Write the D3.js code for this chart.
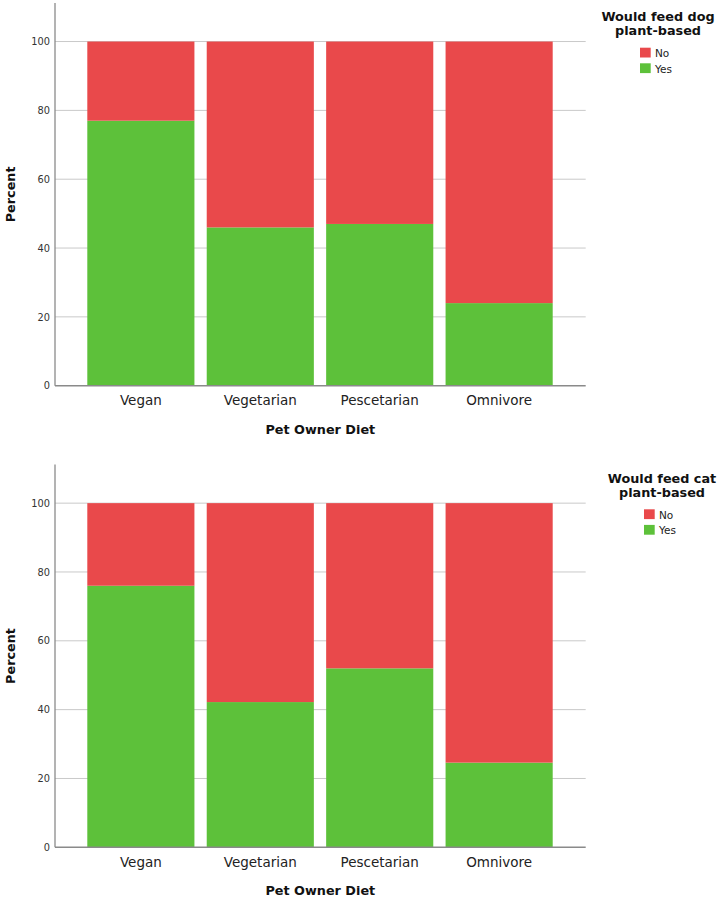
<!DOCTYPE html>
<html>
<head>
<meta charset="utf-8">
<script src="https://cdn.jsdelivr.net/npm/d3@7"></script>
<style>
  html, body { margin: 0; padding: 0; background: #fff; }
  svg text { font-family: "DejaVu Sans", sans-serif; }
</style>
</head>
<body>
<svg id="chart" width="720" height="900"></svg>
<script>
const categories = ["Vegan", "Vegetarian", "Pescetarian", "Omnivore"];
const seriesKeys = ["Yes", "No"];
const dogYes = [77, 46, 47, 24];
const dogNo = [23, 54, 53, 76];
const catYes = [76, 42.2, 52, 24.6];
const catNo = [24, 57.8, 48, 75.4];
const yTicks = [0, 20, 40, 60, 80, 100];
const dogLegendTitle = ["Would feed dog", "plant-based"];
const catLegendTitle = ["Would feed cat", "plant-based"];
const legendItems = ["No", "Yes"];
const xTitle = "Pet Owner Diet";
const yTitle = "Percent";

const colors = { Yes: "#5DC13A", No: "#E9494B" };
const svg = d3.select("#chart");

function drawChart(yesVals, noVals, legendLines, offY, legendCx) {
  const g = svg.append("g").attr("transform", `translate(0,${offY})`);
  const left = 55, right = 585.7, top = 3, bottom = 385.7;
  const y = d3.scaleLinear().domain([0, 111.2]).range([bottom, top]);
  const x = d3.scaleBand().domain(categories)
    .range([81.15, 558.85]).paddingInner(0.103).paddingOuter(0.0515);

  // gridlines
  g.append("g").selectAll("line").data(yTicks.filter(d => d > 0)).join("line")
    .attr("x1", left).attr("x2", right)
    .attr("y1", d => y(d)).attr("y2", d => y(d))
    .attr("stroke", "#c9c9c9").attr("stroke-width", 1);

  const rows = categories.map((c, i) => ({ cat: c, Yes: yesVals[i], No: noVals[i] }));
  const stacked = d3.stack().keys(seriesKeys)(rows);
  g.append("g").selectAll("g").data(stacked).join("g")
    .attr("fill", d => colors[d.key])
    .selectAll("rect").data(d => d).join("rect")
    .attr("x", d => x(d.data.cat))
    .attr("width", x.bandwidth())
    .attr("y", d => y(d[1]))
    .attr("height", d => y(d[0]) - y(d[1]));

  // y axis
  const yAxis = d3.axisLeft(y).tickValues(yTicks).tickSize(0).tickPadding(5);
  const ya = g.append("g").attr("transform", `translate(${left},0)`).call(yAxis);
  ya.select(".domain").remove();
  ya.selectAll("text").attr("font-size", 9.8).attr("fill", "#333")
    .style("font-family", "'DejaVu Sans', sans-serif");
  g.append("line").attr("x1", left).attr("x2", left).attr("y1", top).attr("y2", bottom)
    .attr("stroke", "#8a8a8a").attr("stroke-width", 1.3);

  // x axis
  const xAxis = d3.axisBottom(x).tickSize(0).tickPadding(10);
  const xa = g.append("g").attr("transform", `translate(0,${bottom})`).call(xAxis);
  xa.select(".domain").remove();
  xa.selectAll("text").attr("font-size", 13.5).attr("fill", "#222")
    .style("font-family", "'DejaVu Sans', sans-serif");
  g.append("line").attr("x1", left).attr("x2", right).attr("y1", bottom).attr("y2", bottom)
    .attr("stroke", "#8a8a8a").attr("stroke-width", 1.5);

  // axis titles
  g.append("text").attr("x", (left + right) / 2).attr("y", bottom + 48)
    .attr("text-anchor", "middle").attr("font-size", 12.8).attr("font-weight", "bold")
    .attr("fill", "#111").text(xTitle);
  g.append("text").attr("transform", `translate(14.5,${(top + bottom) / 2}) rotate(-90)`)
    .attr("text-anchor", "middle").attr("font-size", 12.8).attr("font-weight", "bold")
    .attr("fill", "#111").text(yTitle);

  // legend
  const lg = g.append("g");
  const title = lg.append("text").attr("text-anchor", "middle")
    .attr("font-size", 12.8).attr("font-weight", "bold").attr("fill", "#111");
  title.selectAll("tspan").data(legendLines).join("tspan")
    .attr("x", legendCx).attr("y", (d, i) => 21 + i * 14)
    .text(d => d);
  const items = lg.selectAll("g.it").data(legendItems).join("g").attr("class", "it")
    .attr("transform", (d, i) => `translate(${legendCx - 18},${47.7 + i * 15.6})`);
  items.append("rect").attr("width", 10.7).attr("height", 9.8).attr("fill", d => colors[d]);
  items.append("text").attr("x", 15).attr("y", 9.3).attr("font-size", 10.5)
    .attr("fill", "#222").text(d => d);
}

drawChart(dogYes, dogNo, dogLegendTitle, 0, 658);
drawChart(catYes, catNo, catLegendTitle, 461.6, 662);
</script>
</body>
</html>
